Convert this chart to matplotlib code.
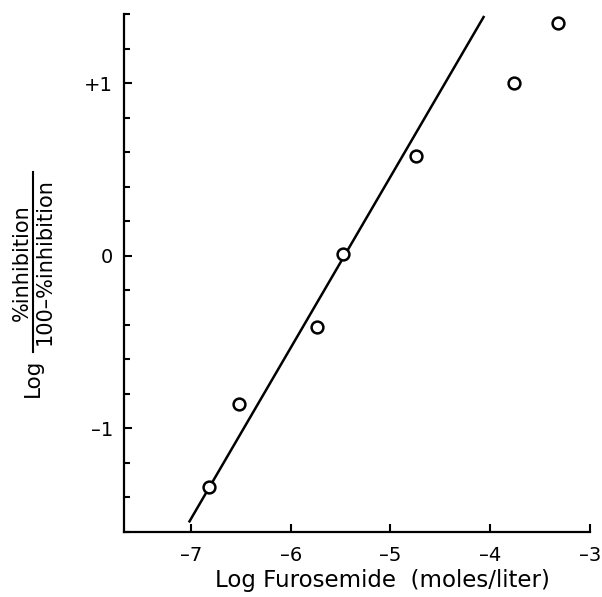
import matplotlib
matplotlib.use("Agg")
import matplotlib.pyplot as plt
from matplotlib.ticker import MultipleLocator, FixedLocator, FixedFormatter
from matplotlib.lines import Line2D

# measured points
log_conc = [-6.82, -6.52, -5.74, -5.48, -4.74, -3.76, -3.32]
log_ratio = [-1.34, -0.86, -0.41, 0.01, 0.58, 1.00, 1.35]

# fitted line (end points as drawn)
fit_x = [-7.02, -4.06]
fit_y = [-1.545, 1.39]

xticks = [-7, -6, -5, -4, -3]
xlabels = ['\u20137', '\u20136', '\u20135', '\u20134', '\u20133']
yticks = [-1, 0, 1]
ylabels = ['\u20131', '0', '+1']

plt.rcParams['font.family'] = ['DejaVu Sans']

fig = plt.figure(figsize=(6.02, 5.97), dpi=100)
ax = fig.add_axes([0.206, 0.109, 0.774, 0.868])

ax.plot(fit_x, fit_y, color='black', lw=1.8, solid_capstyle='butt', zorder=2)
ax.plot(log_conc, log_ratio, linestyle='none', marker='o', markersize=8.5,
        markerfacecolor='white', markeredgecolor='black', markeredgewidth=1.8, zorder=3)

ax.set_xlim(-7.67, -3)
ax.set_ylim(-1.6, 1.403)

for s in ['top', 'right']:
    ax.spines[s].set_visible(False)
for s in ['left', 'bottom']:
    ax.spines[s].set_linewidth(1.6)

ax.xaxis.set_major_locator(FixedLocator(xticks))
ax.xaxis.set_major_formatter(FixedFormatter(xlabels))
ax.yaxis.set_major_locator(FixedLocator(yticks))
ax.yaxis.set_major_formatter(FixedFormatter(ylabels))
ax.yaxis.set_minor_locator(MultipleLocator(0.2))

ax.tick_params(axis='x', direction='in', length=6, width=1.5, pad=10, labelsize=14)
ax.tick_params(axis='y', which='major', direction='in', length=6, width=1.5, pad=8, labelsize=14)
ax.tick_params(axis='y', which='minor', direction='in', length=4.5, width=1.5)

ax.set_xlabel('Log Furosemide  (moles/liter)', fontsize=16.5)
ax.xaxis.set_label_coords((382 - 124) / 466, (532 - 581) / 518)
ax.xaxis.label.set_va('center')

# y label: Log  %inhibition / 100-%inhibition
W, H = 602, 597
fig.text(22 / W, 1 - 263 / H, '%inhibition', rotation=90, fontsize=15,
         ha='center', va='center')
fig.text(45 / W, 1 - 262 / H, '100\u2013%inhibition', rotation=90, fontsize=15,
         ha='center', va='center')
fig.add_artist(Line2D([33 / W, 33 / W], [1 - 172 / H, 1 - 352 / H],
                      transform=fig.transFigure, color='black', lw=1.5))
fig.text(33 / W, 1 - 378 / H, 'Log', rotation=90, fontsize=15.5,
         ha='center', va='center')

fig.savefig('out.png', dpi=100)
